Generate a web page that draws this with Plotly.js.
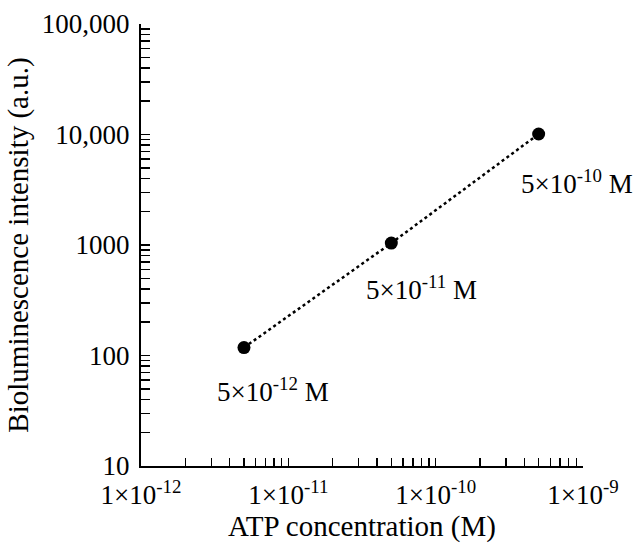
<!DOCTYPE html>
<html>
<head>
<meta charset="utf-8">
<script src="https://cdn.plot.ly/plotly-3.0.1.min.js"></script>
<style>html,body{margin:0;padding:0;background:#fff;}#chart{width:633px;height:545px;}</style>
</head>
<body>
<div id="chart"></div>
<script>
const concentrations = [5e-12, 5e-11, 5e-10];
const intensities = [118, 1040, 10100];
const pointLabels = ["5×10<sup>-12</sup> M", "5×10<sup>-11</sup> M", "5×10<sup>-10</sup> M"];
const xTickVals = [1e-12, 1e-11, 1e-10, 1e-9];
const xTickText = ["1×10<sup>-12</sup>", "1×10<sup>-11</sup>", "1×10<sup>-10</sup>", "1×10<sup>-9</sup>"];
const yTickVals = [10, 100, 1000, 10000, 100000];
const yTickText = ["10", "100", "1000", "10,000", "100,000"];

const FONT = "Liberation Serif, DejaVu Serif, serif";
const labelOffsets = [[29, 42], [30, 45], [38, 48]];

const trace = {
  x: concentrations, y: intensities, type: "scatter", mode: "lines+markers",
  line: {color: "#000", width: 2.5, dash: "dot"},
  marker: {color: "#000", size: 13},
  showlegend: false, hoverinfo: "none"
};

const annotations = concentrations.map((c, i) => ({
  x: Math.log10(c), y: Math.log10(intensities[i]), xref: "x", yref: "y",
  text: pointLabels[i], showarrow: false,
  xshift: labelOffsets[i][0], yshift: -labelOffsets[i][1],
  font: {family: FONT, size: 27, color: "#000"}
}));

const layout = {
  width: 633, height: 545,
  margin: {l: 141, r: 50, t: 24, b: 79},
  paper_bgcolor: "#fff", plot_bgcolor: "#fff",
  font: {family: FONT, size: 27, color: "#000"},
  xaxis: {
    type: "log", range: [-12, -9],
    tickvals: xTickVals, ticktext: xTickText,
    ticks: "inside", ticklen: 8, tickwidth: 1.5, tickcolor: "#000",
    minor: {ticks: "inside", ticklen: 8, tickwidth: 1.5, tickcolor: "#000", dtick: "D1"},
    showline: true, linecolor: "#000", linewidth: 2, showgrid: false, zeroline: false,
    tickfont: {family: FONT, size: 27},
    ticklabelstandoff: 4,
    title: {text: "ATP concentration (M)", font: {family: FONT, size: 29}, standoff: 0}
  },
  yaxis: {
    type: "log", range: [1, 5],
    tickvals: yTickVals, ticktext: yTickText,
    ticks: "inside", ticklen: 9, tickwidth: 1.5, tickcolor: "#000",
    minor: {ticks: "inside", ticklen: 9, tickwidth: 1.5, tickcolor: "#000", dtick: "D1"},
    showline: true, linecolor: "#000", linewidth: 2, showgrid: false, zeroline: false,
    tickfont: {family: FONT, size: 27},
    ticklabelstandoff: 4,
    title: {text: "Bioluminescence intensity (a.u.)", font: {family: FONT, size: 29}, standoff: 5}
  },
  annotations: annotations
};

Plotly.newPlot("chart", [trace], layout, {displayModeBar: false, staticPlot: true});
</script>
</body>
</html>
